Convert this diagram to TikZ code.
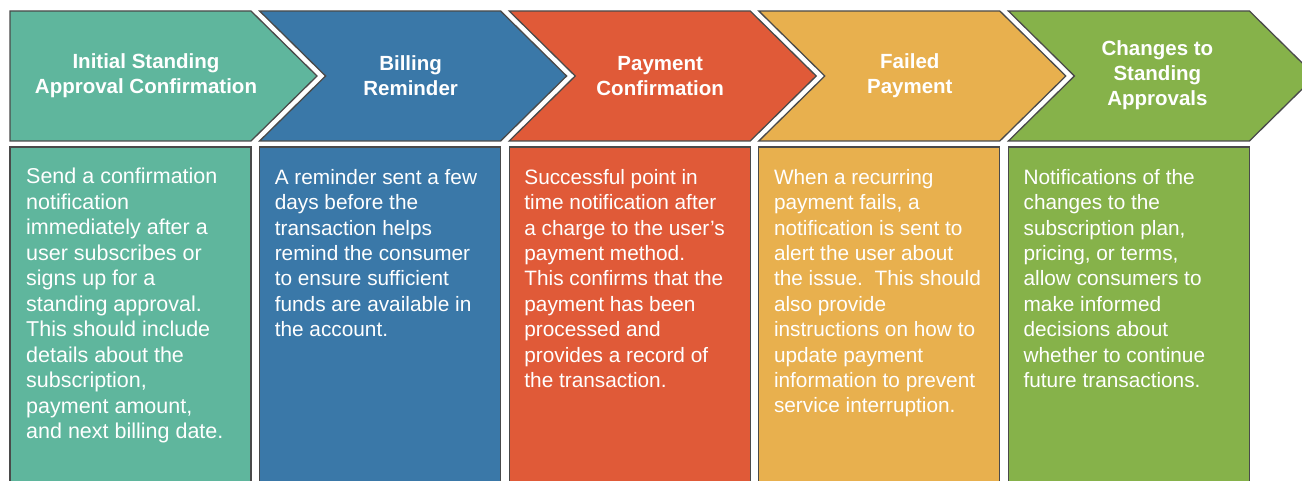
\documentclass[tikz,border=0pt]{standalone}
\usepackage{fontspec}
\setmainfont{Liberation Sans}
\definecolor{cteal}{HTML}{5FB69D}
\definecolor{cblue}{HTML}{3A78A8}
\definecolor{cred}{HTML}{E05A38}
\definecolor{cyel}{HTML}{E8B04E}
\definecolor{cgreen}{HTML}{86B24A}
\definecolor{cline}{HTML}{4A4A4A}
\tikzset{
  shapeline/.style={draw=cline, line width=1.3pt, line join=miter},
  headtext/.style={text=white, font=\fontsize{20.5}{25}\selectfont\bfseries, align=center, inner sep=0pt, anchor=center},
  bodytext/.style={text=white, font=\fontsize{20.8}{25.4}\selectfont, align=left, inner sep=0pt, anchor=north west}
}
\begin{document}
\begin{tikzpicture}[x=1pt,y=-1pt]
\useasboundingbox (0,0) rectangle (1302,481);
\fill[white] (0,0) rectangle (1302,481);
\clip (0,0) rectangle (1302,481);
% chevrons
\draw[shapeline, fill=cteal] (10,11) -- (251,11) -- (317,76) -- (251,141) -- (10,141) -- cycle;
\draw[shapeline, fill=cblue] (259.6,11) -- (500.6,11) -- (566.6,76) -- (500.6,141) -- (259.6,141) -- (325.6,76) -- cycle;
\draw[shapeline, fill=cred] (509.2,11) -- (750.2,11) -- (816.2,76) -- (750.2,141) -- (509.2,141) -- (575.2,76) -- cycle;
\draw[shapeline, fill=cyel] (758.8,11) -- (999.8,11) -- (1065.8,76) -- (999.8,141) -- (758.8,141) -- (824.8,76) -- cycle;
\draw[shapeline, fill=cgreen] (1008.4,11) -- (1249.4,11) -- (1315.4,76) -- (1249.4,141) -- (1008.4,141) -- (1074.4,76) -- cycle;
% boxes
\draw[shapeline, fill=cteal] (10,147) rectangle (251,500);
\draw[shapeline, fill=cblue] (259.6,147) rectangle (500.6,500);
\draw[shapeline, fill=cred] (509.2,147) rectangle (750.2,500);
\draw[shapeline, fill=cyel] (758.8,147) rectangle (999.8,500);
\draw[shapeline, fill=cgreen] (1008.4,147) rectangle (1249.4,500);
% headers
\node[headtext] (h1) at (146,76) {Initial Standing\\Approval Confirmation};
\node[headtext] (h2) at (410.6,76) {Billing\\Reminder};
\node[headtext] (h3) at (660.2,76) {Payment\\Confirmation};
\node[headtext] (h4) at (909.8,76) {Failed\\Payment};
\node[headtext] (h5) at (1157.4,75) {Changes to\\Standing\\Approvals};
% bodies
\node[bodytext, font=\fontsize{21.5}{25.5}\selectfont] (b1) at (26,168) {Send a confirmation\\notification\\immediately after a\\user subscribes or\\signs up for a\\standing approval.\\This should include\\details about the\\subscription,\\payment amount,\\and next billing date.};
\node[bodytext] (b2) at (274.6,169) {A reminder sent a few\\days before the\\transaction helps\\remind the consumer\\to ensure sufficient\\funds are available in\\the account.};
\node[bodytext] (b3) at (524.2,169) {Successful point in\\time notification after\\a charge to the user’s\\payment method.\\This confirms that the\\payment has been\\processed and\\provides a record of\\the transaction.};
\node[bodytext] (b4) at (773.8,169) {When a recurring\\payment fails, a\\notification is sent to\\alert the user about\\the issue.\ \ This should\\also provide\\instructions on how to\\update payment\\information to prevent\\service interruption.};
\node[bodytext] (b5) at (1023.4,169) {Notifications of the\\changes to the\\subscription plan,\\pricing, or terms,\\allow consumers to\\make informed\\decisions about\\whether to continue\\future transactions.};
\end{tikzpicture}
\end{document}
